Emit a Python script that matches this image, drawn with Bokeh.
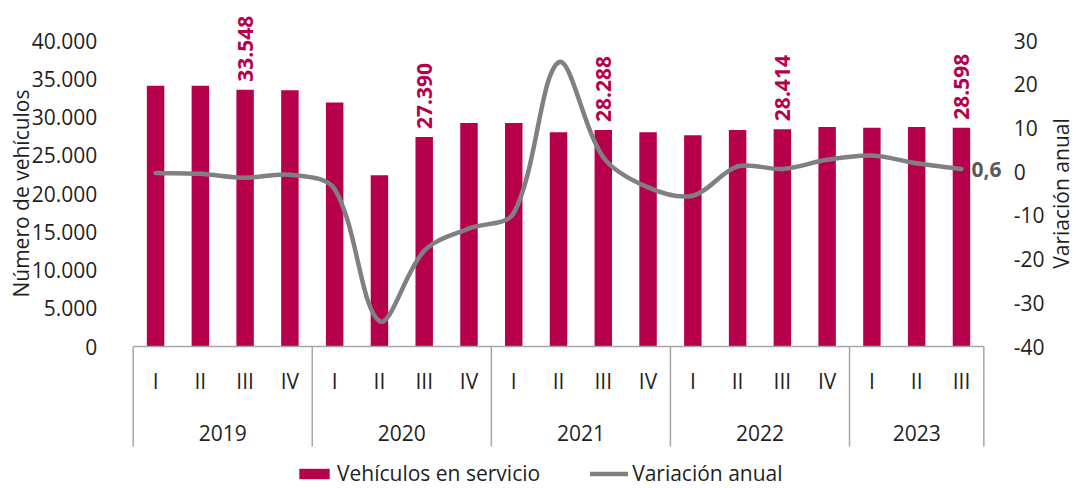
import math
from bokeh.plotting import figure
from bokeh.models import (Range1d, LinearAxis, FixedTicker, ColumnDataSource,
                          Legend, LegendItem)
from bokeh.core.properties import value
from bokeh.embed import file_html
from bokeh.resources import INLINE

# ---------------- data ----------------
years = ["2019", "2020", "2021", "2022", "2023"]
quarters = [["I", "II", "III", "IV"], ["I", "II", "III", "IV"], ["I", "II", "III", "IV"],
            ["I", "II", "III", "IV"], ["I", "II", "III"]]
vehiculos = [34100, 34100, 33548, 33500,
             31900, 22400, 27390, 29200,
             29200, 28000, 28288, 28000,
             27600, 28300, 28414, 28700,
             28600, 28700, 28598]
variacion = [-0.3, -0.5, -1.4, -0.7,
             -4.0, -34.2, -18.1, -13.0,
             -9.5, 25.0, 3.3, -3.6,
             -5.5, 1.2, 0.6, 2.7,
             3.7, 1.9, 0.6]
left_ticks = [0, 5000, 10000, 15000, 20000, 25000, 30000, 35000, 40000]
left_tick_labels = ["0", "5.000", "10.000", "15.000", "20.000", "25.000", "30.000", "35.000", "40.000"]
right_ticks = [-40, -30, -20, -10, 0, 10, 20, 30]
right_tick_labels = ["-40", "-30", "-20", "-10", "0", "10", "20", "30"]
left_title = "Número de vehículos"
right_title = "Variación anual"

# ---------------- style / layout ----------------
CRIMSON = "#B7004B"
LINE_GRAY = "#808080"
AXIS_GRAY = "#A6A6A6"
TEXT = "#1F1F1F"
FONT = "Open Sans"
FS = "21px"

W, H = 1078, 488
CAT_L = 132.7                         # canvas x of the category axis start
CAT_PX = 44.77                        # width of one quarter
ZERO_Y, TOP_Y = 346, 40               # pixel rows of the value-axis ends
KL = (ZERO_Y - TOP_Y) / (left_ticks[-1] - left_ticks[0])      # px per vehicle
KR = (ZERO_Y - TOP_Y) / (right_ticks[-1] - right_ticks[0])    # px per % point


def ly(sy):
    """canvas pixel row -> left-axis data value"""
    return (ZERO_Y - sy) / KL


def lx(sx):
    """canvas pixel column -> x data value"""
    return (sx - CAT_L) / CAT_PX


n = len(vehiculos)
q_labels = [q for qs in quarters for q in qs]
xc = [i + 0.5 for i in range(n)]
bounds = [0]
for qs in quarters:
    bounds.append(bounds[-1] + len(qs))
year_x = [(bounds[i] + bounds[i + 1]) / 2 for i in range(len(years))]

p = figure(x_range=Range1d(lx(0), lx(W)), y_range=Range1d(ly(H), ly(0)),
           width=W, height=H, output_backend="svg", toolbar_location=None,
           min_border_left=0, min_border_right=0, min_border_top=0, min_border_bottom=0,
           x_axis_location=None, y_axis_location=None)
p.outline_line_color = None
p.xgrid.visible = False
p.ygrid.visible = False
p.background_fill_color = "white"
p.border_fill_color = "white"
p.extra_y_ranges = {"var": Range1d(right_ticks[0] - (H - ZERO_Y) / KR,
                                   right_ticks[-1] + TOP_Y / KR)}

# bars
src = ColumnDataSource(dict(x=xc, veh=vehiculos))
bars = p.vbar(x="x", top="veh", width=0.39, source=src, fill_color=CRIMSON, line_color=None)

# smoothed line: bezier segments through the data points, control points
# weighted by the on-screen lengths of the neighbouring segments
spts = [(x * CAT_PX, v * KR) for x, v in zip(xc, variacion)]   # screen-proportional


def seglen(a, b):
    return math.hypot(b[0] - a[0], b[1] - a[1])


c_in, c_out = [], []
for i in range(n):
    pm = spts[i - 1] if i > 0 else spts[i]
    pn = spts[i + 1] if i + 1 < n else spts[i]
    li = seglen(pm, spts[i])
    lo = seglen(spts[i], pn)
    tot = (li + lo) or 1.0
    tx, ty = pn[0] - pm[0], pn[1] - pm[1]
    c_in.append((spts[i][0] - tx * li / tot / 3, spts[i][1] - ty * li / tot / 3))
    c_out.append((spts[i][0] + tx * lo / tot / 3, spts[i][1] + ty * lo / tot / 3))

bsrc = ColumnDataSource(dict(
    x0=xc[:-1], y0=variacion[:-1], x1=xc[1:], y1=variacion[1:],
    cx0=[c[0] / CAT_PX for c in c_out[:-1]], cy0=[c[1] / KR for c in c_out[:-1]],
    cx1=[c[0] / CAT_PX for c in c_in[1:]], cy1=[c[1] / KR for c in c_in[1:]]))
bez = p.bezier(x0="x0", y0="y0", x1="x1", y1="y1", cx0="cx0", cy0="cy0", cx1="cx1", cy1="cy1",
               source=bsrc, y_range_name="var", line_color=LINE_GRAY, line_width=4.5,
               line_cap="round")

# value labels on the III quarters
lab_idx = [i for i, q in enumerate(q_labels) if q == "III"]
lsrc = ColumnDataSource(dict(x=[xc[i] for i in lab_idx],
                             y=[vehiculos[i] for i in lab_idx],
                             t=[f"{vehiculos[i]:,}".replace(",", ".") for i in lab_idx]))
p.text(x="x", y="y", text="t", source=lsrc, angle=math.pi / 2,
       text_align="left", text_baseline="middle", y_offset=-8,
       text_font=value(FONT), text_font_size=FS, text_font_style="bold",
       text_color=CRIMSON)

# last variation label
vsrc = ColumnDataSource(dict(x=[xc[-1]], y=[variacion[-1]],
                             t=[f"{variacion[-1]:.1f}".replace(".", ",")]))
p.text(x="x", y="y", text="t", source=vsrc, y_range_name="var",
       x_offset=10, text_align="left", text_baseline="middle",
       text_font=value(FONT), text_font_size=FS, text_font_style="bold",
       text_color="#595959")

# category axis: line, group separators, quarter and year labels
p.segment(x0=[bounds[0]], y0=[0], x1=[bounds[-1]], y1=[0],
          line_color=AXIS_GRAY, line_width=1.5)
p.segment(x0=bounds, y0=[0] * len(bounds), x1=bounds, y1=[ly(446)] * len(bounds),
          line_color=AXIS_GRAY, line_width=1.5)
qsrc = ColumnDataSource(dict(x=xc, y=[ly(380)] * n, t=q_labels))
p.text(x="x", y="y", text="t", source=qsrc, text_align="center", text_baseline="middle",
       text_font=value(FONT), text_font_size=FS, text_color=TEXT)
ysrc = ColumnDataSource(dict(x=year_x, y=[ly(432)] * len(years), t=years))
p.text(x="x", y="y", text="t", source=ysrc, text_align="center", text_baseline="middle",
       text_font=value(FONT), text_font_size=FS, text_color=TEXT)

# value axes, drawn at fixed positions inside the frame
ya = LinearAxis(ticker=FixedTicker(ticks=left_ticks), bounds=(left_ticks[0], left_ticks[-1]),
                fixed_location=bounds[0])
ya.major_label_overrides = dict(zip(left_ticks, left_tick_labels))
ra = LinearAxis(y_range_name="var", ticker=FixedTicker(ticks=right_ticks),
                bounds=(right_ticks[0], right_ticks[-1]), fixed_location=bounds[-1])
ra.major_label_overrides = dict(zip(right_ticks, right_tick_labels))
for ax, standoff in ((ya, 30), (ra, 24)):
    ax.axis_line_color = None
    ax.major_tick_line_color = None
    ax.minor_tick_line_color = None
    ax.major_label_standoff = standoff
    ax.major_label_text_font = FONT
    ax.major_label_text_font_size = FS
    ax.major_label_text_color = TEXT
p.add_layout(ya, "left")
p.add_layout(ra, "right")

# axis titles
mid = (left_ticks[0] + left_ticks[-1]) / 2
tsrc = ColumnDataSource(dict(x=[lx(20), lx(1060)], y=[mid, mid], t=[left_title, right_title]))
p.text(x="x", y="y", text="t", source=tsrc, angle=math.pi / 2,
       text_align="center", text_baseline="middle",
       text_font=value(FONT), text_font_size=FS, text_color=TEXT)

# legend (inside the frame, at the bottom)
legend = Legend(items=[LegendItem(label="Vehículos en servicio", renderers=[bars]),
                       LegendItem(label="Variación anual", renderers=[bez])],
                orientation="horizontal", location=(295, 1),
                border_line_color=None, background_fill_alpha=0,
                label_text_font=FONT, label_text_font_size=FS, label_text_color=TEXT,
                glyph_width=38, glyph_height=13, label_standoff=4, spacing=50,
                padding=0, margin=0)
p.add_layout(legend, "center")

open("out.html", "w").write(file_html(p, INLINE))
